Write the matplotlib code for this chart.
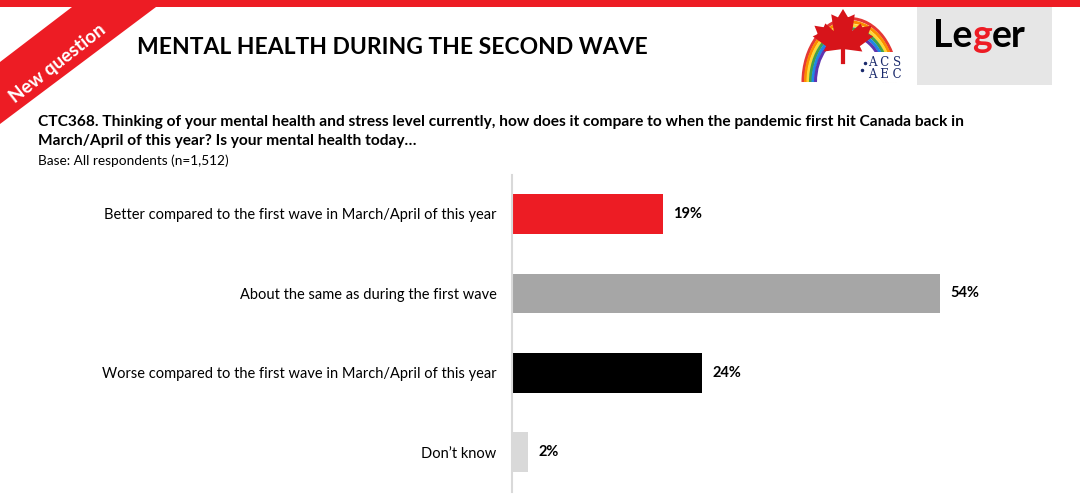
import matplotlib
matplotlib.use("Agg")
import matplotlib.pyplot as plt
from matplotlib.patches import Polygon, Rectangle, Arc
import numpy as np

plt.rcParams['font.family'] = ['Lato', 'DejaVu Sans']

# data
categories = ["Better compared to the first wave in March/April of this year",
              "About the same as during the first wave",
              "Worse compared to the first wave in March/April of this year",
              "Don\u2019t know"]
values = [19, 54, 24, 2]
bar_colors = ["#ED1C24", "#A6A6A6", "#000000", "#D9D9D9"]

title = "MENTAL HEALTH DURING THE SECOND WAVE"
question = ["CTC368. Thinking of your mental health and stress level currently, how does it compare to when the pandemic first hit Canada back in",
            "March/April of this year? Is your mental health today\u2026"]
base = "Base: All respondents (n=1,512)"

W, H = 1080, 497
fig = plt.figure(figsize=(W / 100, H / 100), dpi=100)
fig.patch.set_facecolor("white")

# overlay in pixel coordinates for the slide decoration
ov = fig.add_axes([0, 0, 1, 1])
ov.set_xlim(0, W)
ov.set_ylim(H, 0)
ov.axis("off")

renderer = fig.canvas.get_renderer()


def fit_text(x, y, s, target_w, size, **kw):
    t = ov.text(x, y, s, fontsize=size, **kw)
    w = t.get_window_extent(renderer).width
    t.set_fontsize(size * target_w / w)
    return t


# top red band + diagonal banner
ov.add_patch(Rectangle((0, 0), W, 7, color="#ED1C24", lw=0))
ov.add_patch(Polygon([(0, 62), (72, 7), (156, 7), (0, 124)], closed=True,
                     color="#ED1C24", lw=0))
ov.text(58, 63, "New question", color="white", fontsize=13.5, fontweight="bold",
        rotation=38, ha="center", va="center", rotation_mode="anchor")

# title and question
fit_text(137, 48, title, 510, 17, fontweight="bold", va="center", ha="left")
q1 = fit_text(38, 122, question[0], 922, 10, fontweight="bold", va="center", ha="left")
ov.text(38, 141, question[1], fontsize=q1.get_fontsize(), fontweight="bold",
        va="center", ha="left")
fit_text(38, 161, base, 190, 8, va="center", ha="left")

# ACS logo (rough)
cx, cy = 850, 82
rainbow = ["#E53935", "#FB8C00", "#FDD835", "#43A047", "#1E88E5", "#5E35B1"]
for i, c in enumerate(rainbow):
    w = 94 - i * 5
    ov.add_patch(Arc((cx, cy), w, w * 1.35, theta1=180, theta2=360, color=c, lw=2.2))
leaf = np.array([(0, 1), (0.12, 0.78), (0.28, 0.86), (0.22, 0.42), (0.42, 0.62),
                 (0.46, 0.52), (0.68, 0.56), (0.6, 0.34), (0.72, 0.28), (0.4, 0.02),
                 (0.46, -0.12), (0.05, -0.06), (0.05, -0.45), (-0.05, -0.45),
                 (-0.05, -0.06), (-0.46, -0.12), (-0.4, 0.02), (-0.72, 0.28),
                 (-0.6, 0.34), (-0.68, 0.56), (-0.46, 0.52), (-0.42, 0.62),
                 (-0.22, 0.42), (-0.28, 0.86), (-0.12, 0.78)])
ov.add_patch(Polygon(np.c_[843 + leaf[:, 0] * 42, 47 - leaf[:, 1] * 38],
                     closed=True, color="#D7141A", lw=0))
ov.add_patch(Rectangle((866, 52), 38, 30, color="white", lw=0))
ov.text(885, 62, "A C S", fontsize=8.5, family="DejaVu Serif", ha="center",
        va="center", color="#1a2a6c")
ov.text(885, 74, "A E C", fontsize=8.5, family="DejaVu Serif", ha="center",
        va="center", color="#1a2a6c")
ov.plot([865, 862], [63, 70], ls="none", marker="o", ms=1.5, color="#1a2a6c")

# Leger logo (rough)
ov.add_patch(Rectangle((917, 7), 135, 78, color="#E6E6E6", lw=0))
x0 = 933
for part, col in [("Le", "black"), ("g", "#ED1C24"), ("er", "black")]:
    t = ov.text(x0, 36, part, fontsize=27, fontweight="bold", color=col,
                va="center", ha="left")
    x0 += t.get_window_extent(renderer).width

# bar chart
ax_l, ax_top, ax_bot = 512, 175, 492
px_per = 7.93
xmax = 68
ax = fig.add_axes([ax_l / W, (H - ax_bot) / H, xmax * px_per / W, (ax_bot - ax_top) / H])
y = np.arange(len(categories))
ax.barh(y, values, height=0.5, color=bar_colors)
ax.set_xlim(0, xmax)
ax.set_ylim(3.5, -0.49)
for s in ["top", "right", "bottom"]:
    ax.spines[s].set_visible(False)
ax.spines["left"].set_color("#D9D9D9")
ax.spines["left"].set_linewidth(1.5)
ax.set_xticks([])
ax.set_yticks(y)
ax.set_yticklabels(categories, fontsize=10.5)
ax.tick_params(axis="y", length=0, pad=11)
ax.patch.set_alpha(0)
for yi, v in zip(y, values):
    ax.text(v + 1.3, yi, f"{v}%", fontsize=10.5, fontweight="bold", va="center",
            ha="left")

fig.savefig("out.png", dpi=100, facecolor="white")
